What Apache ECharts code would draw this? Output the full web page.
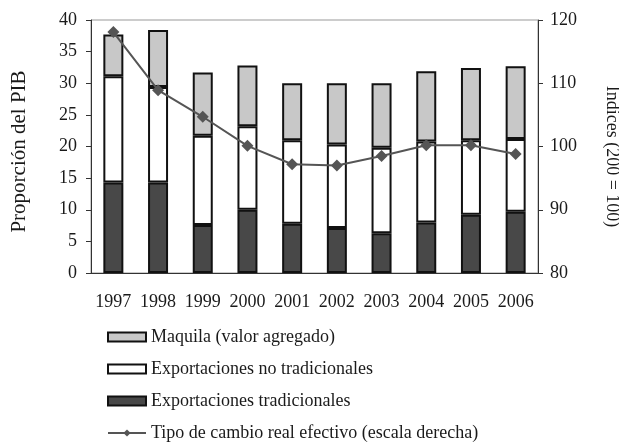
<!DOCTYPE html>
<html>
<head>
<meta charset="utf-8">
<script src="https://cdn.jsdelivr.net/npm/echarts@6/dist/echarts.min.js"></script>
<style>
  html, body { margin: 0; padding: 0; background: #fff; overflow: hidden; }
  #chart { width: 619px; height: 443px; }
</style>
</head>
<body>
<div id="chart"></div>
<script>
const years = ['1997', '1998', '1999', '2000', '2001', '2002', '2003', '2004', '2005', '2006'];
const tradicionales = [14.3, 14.3, 7.6, 10.0, 7.8, 7.1, 6.3, 8.0, 9.2, 9.7];
const noTradicionales = [16.8, 15.1, 14.1, 13.2, 13.2, 13.2, 13.5, 12.8, 11.8, 11.5];
const maquila = [6.6, 9.0, 10.0, 9.6, 9.0, 9.7, 10.2, 11.1, 11.4, 11.5];
const tipoCambio = [118.1, 108.9, 104.7, 100.1, 97.2, 97.0, 98.5, 100.2, 100.2, 98.8];

const chart = echarts.init(document.getElementById('chart'));
const font = 'Liberation Serif';
const txt = '#1a1a1a';

const barSeries = (name, data, color) => ({
  name: name,
  type: 'bar',
  stack: 'pib',
  data: data,
  barWidth: 20,
  itemStyle: { color: color, borderColor: '#111', borderWidth: 2 }
});

const option = {
  animation: false,
  textStyle: { fontFamily: font, color: txt },
  grid: {
    left: 91, right: 81, top: 20, bottom: 170,
    outerBoundsMode: 'none',
    show: true, borderColor: '#999', borderWidth: 1
  },
  legend: {
    orient: 'vertical',
    left: 102,
    top: 323,
    height: 300,
    itemWidth: 38,
    itemHeight: 9,
    itemGap: 14,
    textStyle: { fontFamily: font, fontSize: 18, color: txt },
    data: [
      { name: 'Maquila (valor agregado)', icon: 'rect' },
      { name: 'Exportaciones no tradicionales', icon: 'rect' },
      { name: 'Exportaciones tradicionales', icon: 'rect' },
      { name: 'Tipo de cambio real efectivo (escala derecha)' }
    ]
  },
  xAxis: {
    type: 'category',
    data: years,
    axisLine: { lineStyle: { color: '#333', width: 1 } },
    axisTick: { length: 5, lineStyle: { color: '#333' } },
    axisLabel: { fontFamily: font, fontSize: 18, color: txt, margin: 20, interval: 0 }
  },
  yAxis: [
    {
      type: 'value',
      min: 0, max: 40, interval: 5,
      name: 'Proporción del PIB',
      nameLocation: 'middle',
      nameGap: 61,
      nameTextStyle: { fontFamily: font, fontSize: 21, color: txt, padding: [0, 10, 0, 0] },
      axisLine: { show: true, lineStyle: { color: '#333' } },
      axisTick: { show: true, length: 5, lineStyle: { color: '#333' } },
      axisLabel: { fontFamily: font, fontSize: 18, color: txt, margin: 14 },
      splitLine: { show: false }
    },
    {
      type: 'value',
      min: 80, max: 120, interval: 10,
      name: 'Indices (200 = 100)',
      nameLocation: 'middle',
      nameRotate: -90,
      nameGap: 65,
      nameTextStyle: { fontFamily: font, fontSize: 18, color: txt, padding: [0, 0, 0, 20] },
      axisLine: { show: true, lineStyle: { color: '#333' } },
      axisTick: { show: true, length: 5, lineStyle: { color: '#333' } },
      axisLabel: { fontFamily: font, fontSize: 18, color: txt, margin: 12 },
      splitLine: { show: false }
    }
  ],
  series: [
    barSeries('Exportaciones tradicionales', tradicionales, '#484848'),
    barSeries('Exportaciones no tradicionales', noTradicionales, '#ffffff'),
    barSeries('Maquila (valor agregado)', maquila, '#c8c8c8'),
    {
      name: 'Tipo de cambio real efectivo (escala derecha)',
      type: 'line',
      yAxisIndex: 1,
      data: tipoCambio,
      symbol: 'diamond',
      symbolSize: 12,
      lineStyle: { color: '#555', width: 2 },
      itemStyle: { color: '#555' },
      z: 5
    }
  ]
};

chart.setOption(option);
</script>
</body>
</html>
